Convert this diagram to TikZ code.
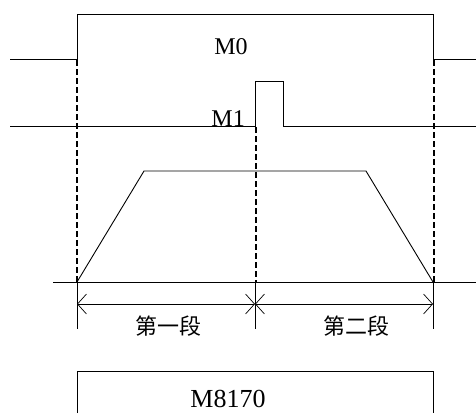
\documentclass[tikz,border=0pt]{standalone}
\usepackage{fontspec}
\setmainfont{Liberation Serif}
\newfontfamily\cjk{Noto Sans CJK SC}
\usetikzlibrary{arrows.meta}

\begin{document}
\begin{tikzpicture}[x=1pt,y=-1pt,
	signal/.style={line width=0.9pt},
	guide/.style={line width=1.5pt,dash pattern=on 6pt off 3pt},
	dimline/.style={line width=0.7pt,{Straight Barb[length=9pt,width=20pt]}-{Straight Barb[length=9pt,width=20pt]}},
	lbl/.style={font=\fontsize{24}{24}\selectfont,inner sep=0pt},
	seg/.style={font=\cjk\fontsize{22}{22}\selectfont,inner sep=0pt}]
	\useasboundingbox (0,0) rectangle (476,413);
	% M0 and M1 signals
	\draw[signal] (10,59) -- (77,59) -- (77,14) -- (433,14) -- (433,59) -- (476,59);
	\draw[signal] (10,126) -- (255,126) -- (255,81) -- (283,81) -- (283,126) -- (476,126);
	\node[lbl,anchor=base] (m0) at (231,54) {M0};
	\node[lbl,anchor=base east] (m1) at (245,126) {M1};
	% speed profile
	\coordinate (p0) at (77,282);
	\coordinate (p1) at (144,171);
	\coordinate (p2) at (366,171);
	\coordinate (p3) at (433,282);
	\draw[signal] (53,282) -- (476,282);
	\draw[signal] (p0) -- (p1) -- (p2) -- (p3);
	\draw[guide] (77,60) -- (77,282);
	\draw[guide] (256,127) -- (256,282);
	\draw[guide] (434,60) -- (434,282);
	% segments
	\draw[signal] (77,282) -- (77,329);
	\draw[signal] (255,282) -- (255,329);
	\draw[signal] (433,282) -- (433,329);
	\coordinate (d1) at (77,304);
	\coordinate (d2) at (255,304);
	\coordinate (d3) at (433,304);
	\draw[dimline] (d1) -- (d2);
	\draw[dimline] (d2) -- (d3);
	\node[seg] (s1) at (168,326) {第一段};
	\node[seg] (s2) at (356,326) {第二段};
	% M8170
	\draw[signal] (77,413) -- (77,371) -- (433,371) -- (433,413);
	\node[lbl,anchor=base,font=\fontsize{26}{26}\selectfont] (m8170) at (228,407) {M8170};
\end{tikzpicture}
\end{document}
